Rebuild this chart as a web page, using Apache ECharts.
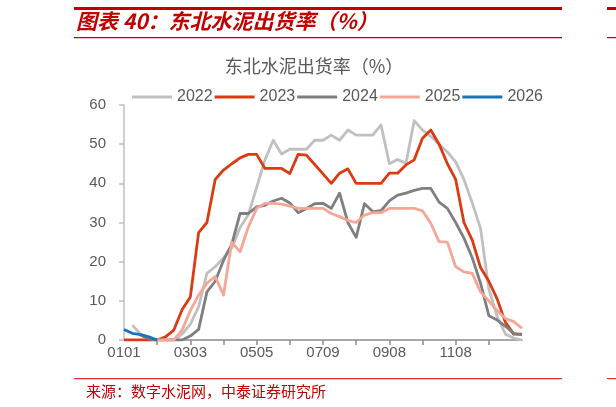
<!DOCTYPE html>
<html>
<head>
<meta charset="utf-8">
<script src="https://cdn.jsdelivr.net/npm/echarts@6/dist/echarts.min.js"></script>
<style>
html,body{margin:0;padding:0;background:#fff;}
#chart{width:616px;height:407px;}
</style>
</head>
<body>
<div id="chart"></div>
<script>
const categories = ['0101','0108','0115','0122','0129','0205','0212','0219','0303','0310','0317','0324','0331','0407','0414','0421','0505','0512','0519','0526','0602','0609','0616','0623','0709','0716','0723','0730','0806','0813','0820','0827','0908','0915','0922','0929','1013','1020','1027','1103','1108','1115','1122','1129','1206','1213','1220','1227','1231'];

const s2022 = [null,3.8,1.5,0.5,0,0,0,1.5,4,8.5,17,18.7,21,23.5,28.7,32,39,46,51,47.5,48.7,48.7,48.7,51,51,52.3,51,53.6,52.3,52.3,52.3,54.9,45,46.1,45.1,56,53.6,52,50,48,45.5,41,35,28.5,13,6,1.5,0.5,0];
const s2023 = [0,0,0,0,0,0.8,2.5,7.7,11,27.4,30,41,43.4,45,46.5,47.4,47.4,43.8,43.8,43.8,42.5,47.4,47.2,44.8,42.4,40,42.6,43.7,40,40,40,40,42.6,42.6,44.7,46,51.5,53.6,50,45,41,30,25.5,18.5,15,10.5,4.5,1.5,1.5];
const s2024 = [null,null,1.2,0.3,0,0,0,0,1,2.7,12.3,15,20.3,24.5,32.3,32.3,34,34.4,35.5,36.2,35,32.5,33.6,34.8,34.9,33.6,37.5,30,26.2,34.8,32.8,33,35.5,37,37.5,38.2,38.7,38.7,35.2,33.6,30,26,21,14.5,6.2,5.1,3.5,1.7,1.3];
const s2025 = [null,null,null,null,0,0,0,2.5,7.5,11.5,14.5,16.2,11.5,25,22.5,28.9,33.6,34.9,34.9,34.7,34.2,33.6,33.6,33.6,33.6,32.3,31.5,30.5,30,31.9,32.5,32.5,33.6,33.6,33.6,33.6,33,29.8,25.1,25,18.7,17.4,17,12.3,10,7.5,5.5,4.7,3];
const s2026 = [2.7,1.7,1.4,0.8,0];

const seriesNames = ['2022','2023','2024','2025','2026'];
const seriesData = [s2022, s2023, s2024, s2025, s2026];
const colors = ['#c0c0c0','#dc3a12','#7f7f7f','#f5a797','#1f72b8'];

const yTicks = [0,10,20,30,40,50,60];

const chart = echarts.init(document.getElementById('chart'), null, {renderer:'canvas'});
const numFont = '"Liberation Sans", Arial, sans-serif';
const cjkFont = '"Noto Sans CJK SC", sans-serif';

chart.setOption({
  animation: false,
  backgroundColor: '#ffffff',
  color: colors,
  grid: {left: 124, right: 94, top: 105, bottom: 67, containLabel: false},
  legend: {
    data: seriesNames,
    left: 127,
    top: 84,
    icon: 'rect',
    itemWidth: 40,
    itemHeight: 3,
    itemGap: 2,
    textStyle: {color: '#595959', fontSize: 16, fontFamily: numFont}
  },
  xAxis: {
    type: 'category',
    data: categories,
    boundaryGap: false,
    axisLine: {show: true, lineStyle: {color: '#8c8c8c', width: 1.5}},
    axisTick: {show: true, length: 5, lineStyle: {color: '#8c8c8c', width: 1.5},
      interval: function(i){ return i % 4 === 0 && i > 0 && i < categories.length - 1; }},
    axisLabel: {color: '#595959', fontSize: 15, fontFamily: numFont, margin: 5,
      interval: function(i){ return i % 8 === 0 && i < categories.length - 1; }},
    splitLine: {show: false}
  },
  yAxis: {
    type: 'value',
    min: yTicks[0],
    max: yTicks[yTicks.length - 1],
    interval: 10,
    axisLine: {show: true, lineStyle: {color: '#bfbfbf', width: 1.5}},
    axisTick: {show: true, length: 5, lineStyle: {color: '#bfbfbf', width: 1.5}},
    axisLabel: {color: '#595959', fontSize: 15, fontFamily: numFont, margin: 18},
    splitLine: {show: false}
  },
  series: seriesNames.map(function(name, k){
    return {
      name: name,
      type: 'line',
      data: seriesData[k],
      showSymbol: false,
      symbol: 'none',
      connectNulls: false,
      lineStyle: {width: 2.8, color: colors[k], join: 'round'},
      itemStyle: {color: colors[k]}
    };
  }),
  graphic: [
    {type:'rect', shape:{x:74, y:7, width:488, height:3}, style:{fill:'#c00000'}},
    {type:'rect', shape:{x:607, y:7, width:9, height:3}, style:{fill:'#c00000'}},
    {type:'text', x:76, y:21, style:{text:'图表 40：东北水泥出货率（%）', font:'italic bold 21px ' + cjkFont, fill:'#c00000', textVerticalAlign:'middle', verticalAlign:'middle'}},
    {type:'rect', shape:{x:74, y:37, width:488, height:1.2}, style:{fill:'#c00000'}},
    {type:'rect', shape:{x:607, y:37, width:9, height:1.2}, style:{fill:'#c00000'}},
    {type:'text', x:314, y:66, style:{text:'东北水泥出货率（%）', font:'18px ' + cjkFont, fill:'#595959', textAlign:'center', align:'center', textVerticalAlign:'middle', verticalAlign:'middle'}},
    {type:'rect', shape:{x:74, y:378, width:488, height:1.2}, style:{fill:'#e03030'}},
    {type:'rect', shape:{x:607, y:378, width:9, height:1.2}, style:{fill:'#e03030'}},
    {type:'text', x:86, y:391, style:{text:'来源：数字水泥网，中泰证券研究所', font:'15px ' + cjkFont, fill:'#c00000', textVerticalAlign:'middle', verticalAlign:'middle'}}
  ]
});
</script>
</body>
</html>
